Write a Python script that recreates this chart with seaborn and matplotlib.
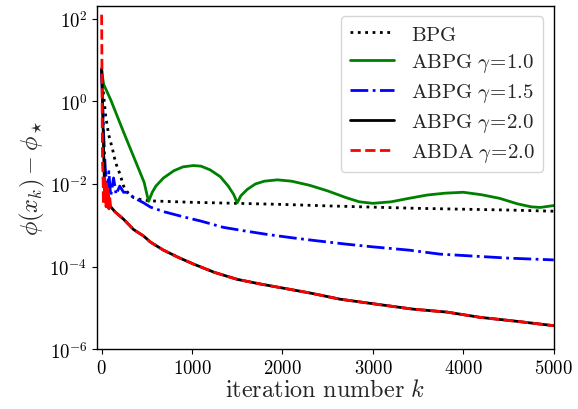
import numpy as np
import pandas as pd
import matplotlib
matplotlib.use("Agg")
import matplotlib.pyplot as plt
import seaborn as sns

# values (x = iteration, y = phi(x_k) - phi_star)
bpg_x = [0, 20, 45, 77, 121, 154, 200, 243, 300, 353, 450, 541, 1000, 1500, 2000,
         2500, 3000, 3500, 4000, 4500, 5000]
bpg_y = [5.9, 1.6, 0.44, 0.16, 0.069, 0.033, 0.018, 8.9e-3, 5.6e-3, 4.7e-3, 4.1e-3,
         3.9e-3, 3.6e-3, 3.4e-3, 3.2e-3, 2.95e-3, 2.75e-3, 2.57e-3, 2.45e-3, 2.34e-3,
         2.19e-3]

abpg1_x = [0, 22, 100, 243, 397, 470, 519, 560, 600, 684, 800, 900, 1016, 1100, 1200,
           1313, 1400, 1460, 1500, 1540, 1611, 1700, 1800, 1943, 2100, 2300, 2500,
           2700, 2850, 3000, 3200, 3400, 3600, 3800, 4000, 4200, 4400, 4600, 4750,
           4850, 4950, 5000]
abpg1_y = [5.6, 2.6, 1.1, 0.18, 0.027, 0.011, 3.8e-3, 6.3e-3, 8.9e-3, 0.014, 0.021,
           0.026, 0.028, 0.027, 0.022, 0.015, 8.9e-3, 5.6e-3, 3.5e-3, 5.2e-3, 7.4e-3,
           0.010, 0.0117, 0.0126, 0.0117, 9.3e-3, 6.8e-3, 4.7e-3, 3.7e-3, 3.4e-3,
           3.7e-3, 4.5e-3, 5.4e-3, 6.0e-3, 6.3e-3, 5.5e-3, 4.5e-3, 3.3e-3, 2.8e-3,
           2.7e-3, 2.9e-3, 3.0e-3]

abpg15_x = [0, 20, 40, 60, 80, 100, 132, 160, 200, 243, 290, 353, 464, 541, 700, 905,
            1100, 1347, 1600, 1832, 2100, 2384, 2700, 3000, 3400, 3742, 4100, 4500, 5000]
abpg15_y = [5.6, 0.2, 0.025, 6.3e-3, 0.02, 5.0e-3, 0.014, 5.6e-3, 8.9e-3, 6.3e-3,
            6.3e-3, 4.7e-3, 3.5e-3, 2.75e-3, 2.1e-3, 1.6e-3, 1.26e-3, 8.9e-4, 7.2e-4,
            6.0e-4, 5.0e-4, 4.2e-4, 3.5e-4, 3.0e-4, 2.5e-4, 2.0e-4, 1.8e-4, 1.6e-4,
            1.45e-4]

abpg2_x = [0, 10, 20, 30, 40, 60, 100, 150, 243, 353, 464, 541, 684, 850, 1016, 1250,
           1500, 1750, 2009, 2300, 2638, 3000, 3444, 3819, 4183, 4600, 5000]
abpg2_y = [6.3, 1.0, 0.1, 0.0126, 3.9e-3, 3.3e-3, 2.8e-3, 2.1e-3, 1.4e-3, 7.9e-4,
           5.5e-4, 3.9e-4, 2.5e-4, 1.66e-4, 1.15e-4, 7.2e-5, 4.9e-5, 3.8e-5, 3.0e-5,
           2.3e-5, 1.62e-5, 1.26e-5, 9.3e-6, 7.9e-6, 5.9e-6, 4.7e-6, 3.7e-6]

# ABDA: noisy start, then on top of ABPG gamma=2.0
abda_head_x = [0, 3, 6, 10, 15, 20, 25, 30, 35, 40, 45, 50, 55, 60, 65, 70, 75, 80,
               90, 100, 120]
abda_head_y = [126, 12.0, 0.5, 0.03, 0.02, 3.2e-3, 0.016, 4.0e-3, 0.0126, 5.0e-3,
               0.01, 2.8e-3, 0.01, 3.2e-3, 7.9e-3, 3.5e-3, 6.3e-3, 2.5e-3, 4.5e-3,
               2.8e-3, 2.4e-3]

abda_x = abda_head_x + [x for x in abpg2_x if x >= 150]
abda_y = abda_head_y + [y for x, y in zip(abpg2_x, abpg2_y) if x >= 150]

sns.set_style("ticks")
plt.rcParams["font.family"] = ["DejaVu Serif"]
plt.rcParams["mathtext.fontset"] = "cm"

fig = plt.figure(figsize=(5.78, 4.10), dpi=100)
ax = fig.add_axes([0.168, 0.146, 0.79, 0.837])

series = [
    (bpg_x, bpg_y, "black", ":", r"$\mathrm{BPG}$"),
    (abpg1_x, abpg1_y, "green", "-", r"$\mathrm{ABPG}\ \gamma\!=\!1.0$"),
    (abpg15_x, abpg15_y, "blue", "-.", r"$\mathrm{ABPG}\ \gamma\!=\!1.5$"),
    (abpg2_x, abpg2_y, "black", "-", r"$\mathrm{ABPG}\ \gamma\!=\!2.0$"),
    (abda_x, abda_y, "red", "--", r"$\mathrm{ABDA}\ \gamma\!=\!2.0$"),
]
for xs, ys, c, ls, lab in series:
    df = pd.DataFrame({"k": xs, "gap": ys})
    sns.lineplot(data=df, x="k", y="gap", ax=ax, color=c, linestyle=ls, lw=2,
                 label=lab, estimator=None, sort=False)

ax.set_yscale("log")
ax.set_xlim(-50, 5000)
ax.set_ylim(1e-6, 205)
ax.set_yticks([1e-6, 1e-4, 1e-2, 1e0, 1e2])
ax.set_yticklabels([r"$10^{-6}$", r"$10^{-4}$", r"$10^{-2}$", r"$10^{0}$", r"$10^{2}$"])
ax.set_xticks([0, 1000, 2000, 3000, 4000, 5000])
ax.set_xticklabels([r"$%d$" % v for v in [0, 1000, 2000, 3000, 4000, 5000]])
ax.minorticks_off()
ax.tick_params(labelsize=13.5, length=3.5, width=0.8, colors="black")
for s in ax.spines.values():
    s.set_visible(True)
    s.set_color("black")
    s.set_linewidth(1.0)

ax.set_xlabel(r"$\mathrm{iteration\ number}\ k$", fontsize=17.5, labelpad=1)
ax.set_ylabel(r"$\phi(x_k) - \phi_\star$", fontsize=17.5, labelpad=2)
ax.legend(loc="upper right", fontsize=15, handlelength=2.15, handletextpad=0.8,
          labelspacing=0.34, borderaxespad=0.5)

fig.savefig("out.png", dpi=100)
